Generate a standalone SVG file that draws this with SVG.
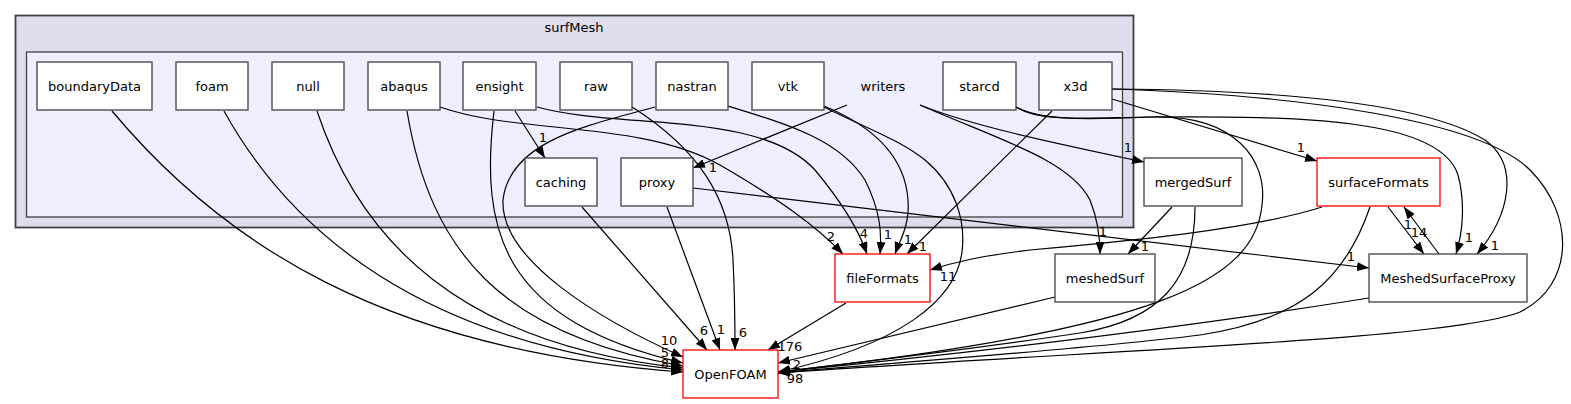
<svg xmlns="http://www.w3.org/2000/svg" width="1571" height="404" viewBox="0 0 1571 404">
<style>
text{font-family:"DejaVu Sans","Liberation Sans",sans-serif;font-size:13px;fill:#000;text-anchor:middle}
.n rect{fill:#fff;stroke:#404040;stroke-width:1.3}
.n.red rect{stroke:#ff0000}
#edges path{fill:none;stroke:#000;stroke-width:1.2}
</style>
<defs>
<marker id="ah" viewBox="0 0 12 9" refX="12" refY="4.5" markerWidth="12" markerHeight="9" markerUnits="userSpaceOnUse" orient="auto">
<path d="M0,0 L12,4.5 L0,9 Z" fill="#000"/>
</marker>
</defs>
<rect width="1571" height="404" fill="#fff"/>
<g id="cluster_surfMesh">
<rect x="15.5" y="15.5" width="1118" height="212" fill="#ddddee" stroke="#404040" stroke-width="1.8"/>
<text x="574" y="32">surfMesh</text>
</g>
<g id="cluster_writers">
<rect x="26.5" y="52" width="1096" height="165" fill="#eeeeff" stroke="#404040" stroke-width="1.3"/>
<text x="883" y="91">writers</text>
</g>
<g id="edges">
<path d="M112,111 C220,240 380,350 683,372" marker-end="url(#ah)"/>
<path d="M224,111 C290,230 420,345 683,370" marker-end="url(#ah)"/>
<path d="M317,111 C360,240 460,345 683,368" marker-end="url(#ah)"/>
<path d="M407,111 C430,250 500,335 683,366" marker-end="url(#ah)"/>
<path d="M494,111 C480,230 500,320 683,363" marker-end="url(#ah)"/>
<path d="M655,107 C590,125 510,140 503,200 C500,260 600,320 683,357" marker-end="url(#ah)"/>
<path d="M515,111 L545,158" marker-end="url(#ah)"/>
<path d="M537,107 C620,130 760,110 815,170 C840,200 858,228 867,254" marker-end="url(#ah)"/>
<path d="M440,107 C520,135 640,120 720,165 C780,200 815,225 843,254" marker-end="url(#ah)"/>
<path d="M632,107 C700,150 730,200 733,260 C735,300 735,330 735,350" marker-end="url(#ah)"/>
<path d="M728,106 C790,125 840,140 865,180 C880,210 882,232 880,254" marker-end="url(#ah)"/>
<path d="M824,106 C870,125 905,155 908,200 C910,225 900,240 895,254" marker-end="url(#ah)"/>
<path d="M824,107 C870,130 900,140 925,160 C955,185 966,220 962,252 C956,300 900,345 778,372" marker-end="url(#ah)"/>
<path d="M1052,111 L907,254" marker-end="url(#ah)"/>
<path d="M847,105 L693,168" marker-end="url(#ah)"/>
<path d="M920,105 C970,125 1040,140 1144,162" marker-end="url(#ah)"/>
<path d="M920,105 C1000,140 1070,160 1090,200 C1098,220 1100,240 1100,254" marker-end="url(#ah)"/>
<path d="M1016,107 C1040,120 1080,120 1150,117 C1235,114 1268,160 1262,205 C1255,280 1160,330 778,372" marker-end="url(#ah)"/>
<path d="M1016,107 C1040,122 1080,118 1150,117 C1300,116 1440,118 1458,175 C1466,205 1462,235 1456,254" marker-end="url(#ah)"/>
<path d="M1112,99 L1317,161" marker-end="url(#ah)"/>
<path d="M1112,89 C1260,90 1420,100 1485,140 C1520,165 1510,215 1477,254" marker-end="url(#ah)"/>
<path d="M1112,89 C1300,95 1480,120 1530,170 C1575,215 1575,285 1520,312 C1450,340 1100,350 778,373" marker-end="url(#ah)"/>
<path d="M667,207 L720,350" marker-end="url(#ah)"/>
<path d="M582,207 L707,350" marker-end="url(#ah)"/>
<path d="M693,188 L1369,268" marker-end="url(#ah)"/>
<path d="M846,303 L768,350" marker-end="url(#ah)"/>
<path d="M1172,207 L1128,254" marker-end="url(#ah)"/>
<path d="M1195,207 C1195,280 1160,320 1080,333 C1000,345 880,360 778,372" marker-end="url(#ah)"/>
<path d="M1055,297 L778,363" marker-end="url(#ah)"/>
<path d="M1322,207 C1250,230 1120,242 1030,250 C980,256 955,262 930,270" marker-end="url(#ah)"/>
<path d="M1370,207 C1345,280 1300,320 1200,335 C1100,348 900,362 778,373" marker-end="url(#ah)"/>
<path d="M1388,207 L1424,254" marker-end="url(#ah)"/>
<path d="M1439,254 L1404,207" marker-end="url(#ah)"/>
<path d="M1369,298 C1200,325 1000,350 778,372" marker-end="url(#ah)"/>
</g>
<g id="edge_labels">
<text x="543" y="142">1</text>
<text x="713" y="172">1</text>
<text x="831" y="241">2</text>
<text x="864" y="238">4</text>
<text x="888" y="239">1</text>
<text x="908" y="244">1</text>
<text x="923" y="251">1</text>
<text x="948" y="281">11</text>
<text x="1103" y="236">1</text>
<text x="1145" y="251">1</text>
<text x="1128" y="152">1</text>
<text x="1301" y="152">1</text>
<text x="1408" y="229">1</text>
<text x="1419" y="237">14</text>
<text x="1469" y="242">1</text>
<text x="1495" y="250">1</text>
<text x="1351" y="261">1</text>
<text x="669" y="345">10</text>
<text x="665" y="357">5</text>
<text x="665" y="368">8</text>
<text x="704" y="335">6</text>
<text x="721" y="334">1</text>
<text x="743" y="337">6</text>
<text x="790" y="351">176</text>
<text x="797" y="369">2</text>
<text x="795" y="383">98</text>
</g>
<g id="boundaryData" class="n"><rect x="37" y="62" width="115" height="48"/><text x="94.5" y="91">boundaryData</text></g>
<g id="foam" class="n"><rect x="176" y="62" width="72" height="48"/><text x="212" y="91">foam</text></g>
<g id="null" class="n"><rect x="272" y="62" width="72" height="48"/><text x="308" y="91">null</text></g>
<g id="abaqus" class="n"><rect x="368" y="62" width="72" height="48"/><text x="404" y="91">abaqus</text></g>
<g id="ensight" class="n"><rect x="463" y="62" width="73" height="48"/><text x="499.5" y="91">ensight</text></g>
<g id="raw" class="n"><rect x="560" y="62" width="72" height="48"/><text x="596" y="91">raw</text></g>
<g id="nastran" class="n"><rect x="656" y="62" width="72" height="48"/><text x="692" y="91">nastran</text></g>
<g id="vtk" class="n"><rect x="752" y="62" width="72" height="48"/><text x="788" y="91">vtk</text></g>
<g id="starcd" class="n"><rect x="943" y="62" width="73" height="48"/><text x="979.5" y="91">starcd</text></g>
<g id="x3d" class="n"><rect x="1039" y="62" width="73" height="48"/><text x="1075.5" y="91">x3d</text></g>
<g id="caching" class="n"><rect x="525" y="158" width="72" height="48"/><text x="561" y="187">caching</text></g>
<g id="proxy" class="n"><rect x="621" y="158" width="72" height="48"/><text x="657" y="187">proxy</text></g>
<g id="mergedSurf" class="n"><rect x="1144" y="158" width="98" height="48"/><text x="1193" y="187">mergedSurf</text></g>
<g id="surfaceFormats" class="n red"><rect x="1317" y="158" width="123" height="48"/><text x="1378.5" y="187">surfaceFormats</text></g>
<g id="fileFormats" class="n red"><rect x="835" y="254" width="95" height="48"/><text x="882.5" y="283">fileFormats</text></g>
<g id="meshedSurf" class="n"><rect x="1055" y="254" width="100" height="48"/><text x="1105" y="283">meshedSurf</text></g>
<g id="MeshedSurfaceProxy" class="n"><rect x="1369" y="254" width="158" height="48"/><text x="1448" y="283">MeshedSurfaceProxy</text></g>
<g id="OpenFOAM" class="n red"><rect x="683" y="350" width="95" height="48"/><text x="730.5" y="379">OpenFOAM</text></g>
</svg>
